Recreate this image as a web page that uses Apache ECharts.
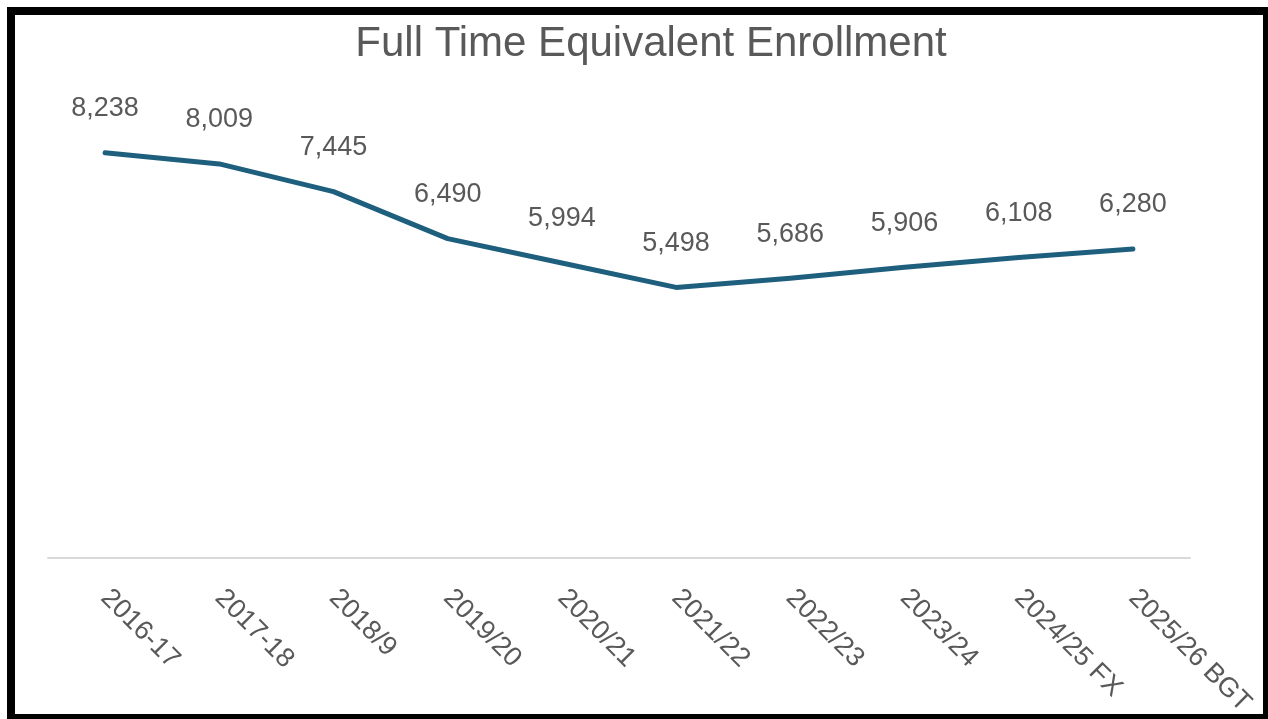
<!DOCTYPE html>
<html>
<head>
<meta charset="utf-8">
<script src="https://cdn.jsdelivr.net/npm/echarts@6/dist/echarts.min.js"></script>
<style>
    html, body { margin: 0; padding: 0; background: #fff; }
    #chart { position: absolute; left: 0; top: 0; width: 1268px; height: 719px; }
    #frame {
        position: absolute; left: 7px; top: 7px; width: 1261px; height: 712px;
        box-sizing: border-box; border-style: solid; border-color: #000;
        border-width: 8px 5px 5px 8px; pointer-events: none;
    }
</style>
</head>
<body>
<div id="chart"></div>
<div id="frame"></div>
<script>
const years = ['2016-17', '2017-18', '2018/9', '2019/20', '2020/21', '2021/22', '2022/23', '2023/24', '2024/25 FX', '2025/26 BGT'];
const fte = [8238, 8009, 7445, 6490, 5994, 5498, 5686, 5906, 6108, 6280];

const textGray = '#595959';
const lineBlue = '#1f5f7e';

let myChart = echarts.init(document.getElementById('chart'));
let option = {
    backgroundColor: '#fff',
    title: {
        text: 'Full Time Equivalent Enrollment',
        left: 646,
        top: 18,
        textAlign: 'center',
        textStyle: {
            fontFamily: 'Liberation Sans',
            fontSize: 42,
            fontWeight: 'normal',
            color: textGray
        }
    },
    grid: {
        left: 48,
        right: 78,
        top: 66,
        bottom: 161
    },
    xAxis: {
        type: 'category',
        data: years,
        axisLine: {
            lineStyle: { color: '#d9d9d9', width: 2 }
        },
        axisTick: { show: false },
        axisLabel: {
            interval: 0,
            rotate: -45,
            margin: 36,
            fontFamily: 'Liberation Sans',
            fontSize: 27,
            color: textGray
        }
    },
    yAxis: {
        type: 'value',
        show: false,
        min: 0,
        max: 10000,
        splitLine: { show: false }
    },
    series: [
        {
            name: 'FTE',
            type: 'line',
            data: fte,
            symbol: 'circle',
            symbolSize: 1,
            lineStyle: { color: lineBlue, width: 5, cap: 'round', join: 'round' },
            itemStyle: { color: lineBlue },
            label: {
                show: true,
                position: 'top',
                distance: 30,
                fontFamily: 'Liberation Sans',
                fontSize: 27,
                color: textGray,
                formatter: (p) => p.value.toLocaleString('en-US')
            },
            emphasis: { disabled: true },
            animation: false
        }
    ]
};
myChart.setOption(option);
</script>
</body>
</html>
